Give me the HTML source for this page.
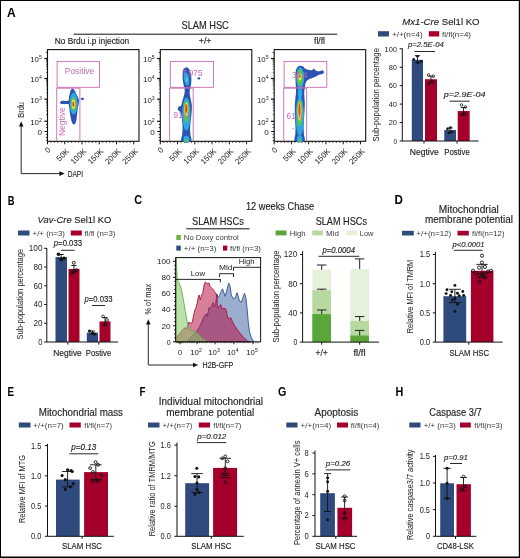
<!DOCTYPE html>
<html><head><meta charset="utf-8"><style>
html,body{margin:0;padding:0;background:#fff;}
svg{display:block;font-family:"Liberation Sans", sans-serif;}
.t{stroke:#222;stroke-width:0.14px;}
</style></head><body>
<svg width="520" height="558" viewBox="0 0 520 558">
<defs><filter id="bl" x="-20%" y="-20%" width="140%" height="140%"><feGaussianBlur stdDeviation="0.45"/></filter></defs>
<rect width="520" height="558" fill="#fff"/>
<g fill="#222" style="will-change:transform">
<line x1="0.50" y1="0.00" x2="0.50" y2="558.00" stroke="#000" stroke-width="1.0" />
<line x1="0.00" y1="0.50" x2="520.00" y2="0.50" stroke="#000" stroke-width="1.0" />
<line x1="0.00" y1="557.25" x2="520.00" y2="557.25" stroke="#000" stroke-width="1.5" />
<line x1="519.40" y1="0.00" x2="519.40" y2="558.00" stroke="#000" stroke-width="1.2" />
<text x="7.10" y="16.80" font-size="11.9" textLength="8.70" lengthAdjust="spacingAndGlyphs" fill="#000" font-weight="bold" >A</text>
<text x="7.70" y="204.60" font-size="11.9" textLength="6.80" lengthAdjust="spacingAndGlyphs" fill="#000" font-weight="bold" >B</text>
<text x="134.20" y="204.00" font-size="11.9" textLength="7.90" lengthAdjust="spacingAndGlyphs" fill="#000" font-weight="bold" >C</text>
<text x="394.60" y="203.90" font-size="11.9" textLength="8.40" lengthAdjust="spacingAndGlyphs" fill="#000" font-weight="bold" >D</text>
<text x="7.50" y="395.60" font-size="11.9" textLength="6.50" lengthAdjust="spacingAndGlyphs" fill="#000" font-weight="bold" >E</text>
<text x="139.50" y="395.60" font-size="11.9" textLength="6.00" lengthAdjust="spacingAndGlyphs" fill="#000" font-weight="bold" >F</text>
<text x="278.00" y="395.90" font-size="11.9" textLength="8.30" lengthAdjust="spacingAndGlyphs" fill="#000" font-weight="bold" >G</text>
<text x="395.50" y="395.90" font-size="11.9" textLength="7.80" lengthAdjust="spacingAndGlyphs" fill="#000" font-weight="bold" >H</text>
<text x="181.50" y="29.20" font-size="10.2" textLength="47.30" lengthAdjust="spacingAndGlyphs" class="t" >SLAM HSC</text>
<line x1="73.50" y1="34.20" x2="337.20" y2="34.20" stroke="#111" stroke-width="1.0" />
<text x="54.80" y="44.20" font-size="8.8" textLength="74.40" lengthAdjust="spacingAndGlyphs" class="t" >No Brdu i.p injection</text>
<text x="198.80" y="44.20" font-size="8.6" textLength="12.70" lengthAdjust="spacingAndGlyphs" class="t" >+/+</text>
<text x="314.00" y="44.20" font-size="8.6" textLength="11.00" lengthAdjust="spacingAndGlyphs" class="t" >fl/fl</text>
<rect x="47.50" y="49.60" width="91.50" height="91.70" fill="none" stroke="#111" stroke-width="1.1"/>
<line x1="44.30" y1="58.50" x2="47.50" y2="58.50" stroke="#111" stroke-width="1.2" />
<text x="30.20" y="62.24" font-size="7.9">10<tspan font-size="5.21" dy="-2.92">5</tspan></text>
<line x1="44.30" y1="78.50" x2="47.50" y2="78.50" stroke="#111" stroke-width="1.2" />
<text x="30.20" y="82.24" font-size="7.9">10<tspan font-size="5.21" dy="-2.92">4</tspan></text>
<line x1="44.30" y1="99.10" x2="47.50" y2="99.10" stroke="#111" stroke-width="1.2" />
<text x="30.20" y="102.84" font-size="7.9">10<tspan font-size="5.21" dy="-2.92">3</tspan></text>
<line x1="44.30" y1="121.30" x2="47.50" y2="121.30" stroke="#111" stroke-width="1.2" />
<text x="30.20" y="125.04" font-size="7.9">10<tspan font-size="5.21" dy="-2.92">2</tspan></text>
<line x1="46.00" y1="72.48" x2="47.50" y2="72.48" stroke="#111" stroke-width="0.6" />
<line x1="46.00" y1="68.96" x2="47.50" y2="68.96" stroke="#111" stroke-width="0.6" />
<line x1="46.00" y1="66.46" x2="47.50" y2="66.46" stroke="#111" stroke-width="0.6" />
<line x1="46.00" y1="64.52" x2="47.50" y2="64.52" stroke="#111" stroke-width="0.6" />
<line x1="46.00" y1="62.94" x2="47.50" y2="62.94" stroke="#111" stroke-width="0.6" />
<line x1="46.00" y1="61.60" x2="47.50" y2="61.60" stroke="#111" stroke-width="0.6" />
<line x1="46.00" y1="60.44" x2="47.50" y2="60.44" stroke="#111" stroke-width="0.6" />
<line x1="46.00" y1="59.42" x2="47.50" y2="59.42" stroke="#111" stroke-width="0.6" />
<line x1="46.00" y1="92.90" x2="47.50" y2="92.90" stroke="#111" stroke-width="0.6" />
<line x1="46.00" y1="89.27" x2="47.50" y2="89.27" stroke="#111" stroke-width="0.6" />
<line x1="46.00" y1="86.70" x2="47.50" y2="86.70" stroke="#111" stroke-width="0.6" />
<line x1="46.00" y1="84.70" x2="47.50" y2="84.70" stroke="#111" stroke-width="0.6" />
<line x1="46.00" y1="83.07" x2="47.50" y2="83.07" stroke="#111" stroke-width="0.6" />
<line x1="46.00" y1="81.69" x2="47.50" y2="81.69" stroke="#111" stroke-width="0.6" />
<line x1="46.00" y1="80.50" x2="47.50" y2="80.50" stroke="#111" stroke-width="0.6" />
<line x1="46.00" y1="79.44" x2="47.50" y2="79.44" stroke="#111" stroke-width="0.6" />
<line x1="46.00" y1="114.62" x2="47.50" y2="114.62" stroke="#111" stroke-width="0.6" />
<line x1="46.00" y1="110.71" x2="47.50" y2="110.71" stroke="#111" stroke-width="0.6" />
<line x1="46.00" y1="107.93" x2="47.50" y2="107.93" stroke="#111" stroke-width="0.6" />
<line x1="46.00" y1="105.78" x2="47.50" y2="105.78" stroke="#111" stroke-width="0.6" />
<line x1="46.00" y1="104.03" x2="47.50" y2="104.03" stroke="#111" stroke-width="0.6" />
<line x1="46.00" y1="102.54" x2="47.50" y2="102.54" stroke="#111" stroke-width="0.6" />
<line x1="46.00" y1="101.25" x2="47.50" y2="101.25" stroke="#111" stroke-width="0.6" />
<line x1="46.00" y1="100.12" x2="47.50" y2="100.12" stroke="#111" stroke-width="0.6" />
<line x1="45.90" y1="52.48" x2="47.50" y2="52.48" stroke="#111" stroke-width="0.8" />
<line x1="45.90" y1="124.50" x2="47.50" y2="124.50" stroke="#111" stroke-width="0.8" />
<line x1="45.90" y1="127.50" x2="47.50" y2="127.50" stroke="#111" stroke-width="0.8" />
<line x1="45.90" y1="134.50" x2="47.50" y2="134.50" stroke="#111" stroke-width="0.8" />
<line x1="45.90" y1="137.50" x2="47.50" y2="137.50" stroke="#111" stroke-width="0.8" />
<line x1="45.90" y1="140.30" x2="47.50" y2="140.30" stroke="#111" stroke-width="0.8" />
<line x1="44.50" y1="131.50" x2="47.50" y2="131.50" stroke="#111" stroke-width="1.0" />
<text x="37.50" y="134.76" font-size="7.4" textLength="4.50" lengthAdjust="spacingAndGlyphs" >0</text>
<line x1="47.50" y1="141.30" x2="47.50" y2="144.30" stroke="#111" stroke-width="1.0" />
<line x1="50.95" y1="141.30" x2="50.95" y2="142.90" stroke="#111" stroke-width="0.8" />
<line x1="54.40" y1="141.30" x2="54.40" y2="142.90" stroke="#111" stroke-width="0.8" />
<line x1="57.85" y1="141.30" x2="57.85" y2="142.90" stroke="#111" stroke-width="0.8" />
<line x1="61.30" y1="141.30" x2="61.30" y2="142.90" stroke="#111" stroke-width="0.8" />
<text transform="translate(51.10,150.50) rotate(-45)" font-size="7.9" text-anchor="end">0</text>
<line x1="64.75" y1="141.30" x2="64.75" y2="144.30" stroke="#111" stroke-width="1.0" />
<line x1="68.20" y1="141.30" x2="68.20" y2="142.90" stroke="#111" stroke-width="0.8" />
<line x1="71.65" y1="141.30" x2="71.65" y2="142.90" stroke="#111" stroke-width="0.8" />
<line x1="75.10" y1="141.30" x2="75.10" y2="142.90" stroke="#111" stroke-width="0.8" />
<line x1="78.55" y1="141.30" x2="78.55" y2="142.90" stroke="#111" stroke-width="0.8" />
<text transform="translate(69.55,151.70) rotate(-45)" font-size="7.9" text-anchor="end">50K</text>
<line x1="82.00" y1="141.30" x2="82.00" y2="144.30" stroke="#111" stroke-width="1.0" />
<line x1="85.45" y1="141.30" x2="85.45" y2="142.90" stroke="#111" stroke-width="0.8" />
<line x1="88.90" y1="141.30" x2="88.90" y2="142.90" stroke="#111" stroke-width="0.8" />
<line x1="92.35" y1="141.30" x2="92.35" y2="142.90" stroke="#111" stroke-width="0.8" />
<line x1="95.80" y1="141.30" x2="95.80" y2="142.90" stroke="#111" stroke-width="0.8" />
<text transform="translate(86.80,151.70) rotate(-45)" font-size="7.9" text-anchor="end">100K</text>
<line x1="99.25" y1="141.30" x2="99.25" y2="144.30" stroke="#111" stroke-width="1.0" />
<line x1="102.70" y1="141.30" x2="102.70" y2="142.90" stroke="#111" stroke-width="0.8" />
<line x1="106.15" y1="141.30" x2="106.15" y2="142.90" stroke="#111" stroke-width="0.8" />
<line x1="109.60" y1="141.30" x2="109.60" y2="142.90" stroke="#111" stroke-width="0.8" />
<line x1="113.05" y1="141.30" x2="113.05" y2="142.90" stroke="#111" stroke-width="0.8" />
<text transform="translate(104.05,151.70) rotate(-45)" font-size="7.9" text-anchor="end">150K</text>
<line x1="116.50" y1="141.30" x2="116.50" y2="144.30" stroke="#111" stroke-width="1.0" />
<line x1="119.95" y1="141.30" x2="119.95" y2="142.90" stroke="#111" stroke-width="0.8" />
<line x1="123.40" y1="141.30" x2="123.40" y2="142.90" stroke="#111" stroke-width="0.8" />
<line x1="126.85" y1="141.30" x2="126.85" y2="142.90" stroke="#111" stroke-width="0.8" />
<line x1="130.30" y1="141.30" x2="130.30" y2="142.90" stroke="#111" stroke-width="0.8" />
<text transform="translate(121.30,151.70) rotate(-45)" font-size="7.9" text-anchor="end">200K</text>
<line x1="133.75" y1="141.30" x2="133.75" y2="144.30" stroke="#111" stroke-width="1.0" />
<text transform="translate(138.55,151.70) rotate(-45)" font-size="7.9" text-anchor="end">250K</text>
<rect x="160.30" y="49.60" width="91.50" height="91.70" fill="none" stroke="#111" stroke-width="1.1"/>
<line x1="157.10" y1="58.50" x2="160.30" y2="58.50" stroke="#111" stroke-width="1.2" />
<text x="143.00" y="62.24" font-size="7.9">10<tspan font-size="5.21" dy="-2.92">5</tspan></text>
<line x1="157.10" y1="78.50" x2="160.30" y2="78.50" stroke="#111" stroke-width="1.2" />
<text x="143.00" y="82.24" font-size="7.9">10<tspan font-size="5.21" dy="-2.92">4</tspan></text>
<line x1="157.10" y1="99.10" x2="160.30" y2="99.10" stroke="#111" stroke-width="1.2" />
<text x="143.00" y="102.84" font-size="7.9">10<tspan font-size="5.21" dy="-2.92">3</tspan></text>
<line x1="157.10" y1="121.30" x2="160.30" y2="121.30" stroke="#111" stroke-width="1.2" />
<text x="143.00" y="125.04" font-size="7.9">10<tspan font-size="5.21" dy="-2.92">2</tspan></text>
<line x1="158.80" y1="72.48" x2="160.30" y2="72.48" stroke="#111" stroke-width="0.6" />
<line x1="158.80" y1="68.96" x2="160.30" y2="68.96" stroke="#111" stroke-width="0.6" />
<line x1="158.80" y1="66.46" x2="160.30" y2="66.46" stroke="#111" stroke-width="0.6" />
<line x1="158.80" y1="64.52" x2="160.30" y2="64.52" stroke="#111" stroke-width="0.6" />
<line x1="158.80" y1="62.94" x2="160.30" y2="62.94" stroke="#111" stroke-width="0.6" />
<line x1="158.80" y1="61.60" x2="160.30" y2="61.60" stroke="#111" stroke-width="0.6" />
<line x1="158.80" y1="60.44" x2="160.30" y2="60.44" stroke="#111" stroke-width="0.6" />
<line x1="158.80" y1="59.42" x2="160.30" y2="59.42" stroke="#111" stroke-width="0.6" />
<line x1="158.80" y1="92.90" x2="160.30" y2="92.90" stroke="#111" stroke-width="0.6" />
<line x1="158.80" y1="89.27" x2="160.30" y2="89.27" stroke="#111" stroke-width="0.6" />
<line x1="158.80" y1="86.70" x2="160.30" y2="86.70" stroke="#111" stroke-width="0.6" />
<line x1="158.80" y1="84.70" x2="160.30" y2="84.70" stroke="#111" stroke-width="0.6" />
<line x1="158.80" y1="83.07" x2="160.30" y2="83.07" stroke="#111" stroke-width="0.6" />
<line x1="158.80" y1="81.69" x2="160.30" y2="81.69" stroke="#111" stroke-width="0.6" />
<line x1="158.80" y1="80.50" x2="160.30" y2="80.50" stroke="#111" stroke-width="0.6" />
<line x1="158.80" y1="79.44" x2="160.30" y2="79.44" stroke="#111" stroke-width="0.6" />
<line x1="158.80" y1="114.62" x2="160.30" y2="114.62" stroke="#111" stroke-width="0.6" />
<line x1="158.80" y1="110.71" x2="160.30" y2="110.71" stroke="#111" stroke-width="0.6" />
<line x1="158.80" y1="107.93" x2="160.30" y2="107.93" stroke="#111" stroke-width="0.6" />
<line x1="158.80" y1="105.78" x2="160.30" y2="105.78" stroke="#111" stroke-width="0.6" />
<line x1="158.80" y1="104.03" x2="160.30" y2="104.03" stroke="#111" stroke-width="0.6" />
<line x1="158.80" y1="102.54" x2="160.30" y2="102.54" stroke="#111" stroke-width="0.6" />
<line x1="158.80" y1="101.25" x2="160.30" y2="101.25" stroke="#111" stroke-width="0.6" />
<line x1="158.80" y1="100.12" x2="160.30" y2="100.12" stroke="#111" stroke-width="0.6" />
<line x1="158.70" y1="52.48" x2="160.30" y2="52.48" stroke="#111" stroke-width="0.8" />
<line x1="158.70" y1="124.50" x2="160.30" y2="124.50" stroke="#111" stroke-width="0.8" />
<line x1="158.70" y1="127.50" x2="160.30" y2="127.50" stroke="#111" stroke-width="0.8" />
<line x1="158.70" y1="134.50" x2="160.30" y2="134.50" stroke="#111" stroke-width="0.8" />
<line x1="158.70" y1="137.50" x2="160.30" y2="137.50" stroke="#111" stroke-width="0.8" />
<line x1="158.70" y1="140.30" x2="160.30" y2="140.30" stroke="#111" stroke-width="0.8" />
<line x1="157.30" y1="131.50" x2="160.30" y2="131.50" stroke="#111" stroke-width="1.0" />
<text x="150.30" y="134.76" font-size="7.4" textLength="4.50" lengthAdjust="spacingAndGlyphs" >0</text>
<line x1="160.30" y1="141.30" x2="160.30" y2="144.30" stroke="#111" stroke-width="1.0" />
<line x1="163.75" y1="141.30" x2="163.75" y2="142.90" stroke="#111" stroke-width="0.8" />
<line x1="167.20" y1="141.30" x2="167.20" y2="142.90" stroke="#111" stroke-width="0.8" />
<line x1="170.65" y1="141.30" x2="170.65" y2="142.90" stroke="#111" stroke-width="0.8" />
<line x1="174.10" y1="141.30" x2="174.10" y2="142.90" stroke="#111" stroke-width="0.8" />
<text transform="translate(163.90,150.50) rotate(-45)" font-size="7.9" text-anchor="end">0</text>
<line x1="177.55" y1="141.30" x2="177.55" y2="144.30" stroke="#111" stroke-width="1.0" />
<line x1="181.00" y1="141.30" x2="181.00" y2="142.90" stroke="#111" stroke-width="0.8" />
<line x1="184.45" y1="141.30" x2="184.45" y2="142.90" stroke="#111" stroke-width="0.8" />
<line x1="187.90" y1="141.30" x2="187.90" y2="142.90" stroke="#111" stroke-width="0.8" />
<line x1="191.35" y1="141.30" x2="191.35" y2="142.90" stroke="#111" stroke-width="0.8" />
<text transform="translate(182.35,151.70) rotate(-45)" font-size="7.9" text-anchor="end">50K</text>
<line x1="194.80" y1="141.30" x2="194.80" y2="144.30" stroke="#111" stroke-width="1.0" />
<line x1="198.25" y1="141.30" x2="198.25" y2="142.90" stroke="#111" stroke-width="0.8" />
<line x1="201.70" y1="141.30" x2="201.70" y2="142.90" stroke="#111" stroke-width="0.8" />
<line x1="205.15" y1="141.30" x2="205.15" y2="142.90" stroke="#111" stroke-width="0.8" />
<line x1="208.60" y1="141.30" x2="208.60" y2="142.90" stroke="#111" stroke-width="0.8" />
<text transform="translate(199.60,151.70) rotate(-45)" font-size="7.9" text-anchor="end">100K</text>
<line x1="212.05" y1="141.30" x2="212.05" y2="144.30" stroke="#111" stroke-width="1.0" />
<line x1="215.50" y1="141.30" x2="215.50" y2="142.90" stroke="#111" stroke-width="0.8" />
<line x1="218.95" y1="141.30" x2="218.95" y2="142.90" stroke="#111" stroke-width="0.8" />
<line x1="222.40" y1="141.30" x2="222.40" y2="142.90" stroke="#111" stroke-width="0.8" />
<line x1="225.85" y1="141.30" x2="225.85" y2="142.90" stroke="#111" stroke-width="0.8" />
<text transform="translate(216.85,151.70) rotate(-45)" font-size="7.9" text-anchor="end">150K</text>
<line x1="229.30" y1="141.30" x2="229.30" y2="144.30" stroke="#111" stroke-width="1.0" />
<line x1="232.75" y1="141.30" x2="232.75" y2="142.90" stroke="#111" stroke-width="0.8" />
<line x1="236.20" y1="141.30" x2="236.20" y2="142.90" stroke="#111" stroke-width="0.8" />
<line x1="239.65" y1="141.30" x2="239.65" y2="142.90" stroke="#111" stroke-width="0.8" />
<line x1="243.10" y1="141.30" x2="243.10" y2="142.90" stroke="#111" stroke-width="0.8" />
<text transform="translate(234.10,151.70) rotate(-45)" font-size="7.9" text-anchor="end">200K</text>
<line x1="246.55" y1="141.30" x2="246.55" y2="144.30" stroke="#111" stroke-width="1.0" />
<text transform="translate(251.35,151.70) rotate(-45)" font-size="7.9" text-anchor="end">250K</text>
<rect x="274.20" y="49.60" width="91.50" height="91.70" fill="none" stroke="#111" stroke-width="1.1"/>
<line x1="271.00" y1="58.50" x2="274.20" y2="58.50" stroke="#111" stroke-width="1.2" />
<text x="256.90" y="62.24" font-size="7.9">10<tspan font-size="5.21" dy="-2.92">5</tspan></text>
<line x1="271.00" y1="78.50" x2="274.20" y2="78.50" stroke="#111" stroke-width="1.2" />
<text x="256.90" y="82.24" font-size="7.9">10<tspan font-size="5.21" dy="-2.92">4</tspan></text>
<line x1="271.00" y1="99.10" x2="274.20" y2="99.10" stroke="#111" stroke-width="1.2" />
<text x="256.90" y="102.84" font-size="7.9">10<tspan font-size="5.21" dy="-2.92">3</tspan></text>
<line x1="271.00" y1="121.30" x2="274.20" y2="121.30" stroke="#111" stroke-width="1.2" />
<text x="256.90" y="125.04" font-size="7.9">10<tspan font-size="5.21" dy="-2.92">2</tspan></text>
<line x1="272.70" y1="72.48" x2="274.20" y2="72.48" stroke="#111" stroke-width="0.6" />
<line x1="272.70" y1="68.96" x2="274.20" y2="68.96" stroke="#111" stroke-width="0.6" />
<line x1="272.70" y1="66.46" x2="274.20" y2="66.46" stroke="#111" stroke-width="0.6" />
<line x1="272.70" y1="64.52" x2="274.20" y2="64.52" stroke="#111" stroke-width="0.6" />
<line x1="272.70" y1="62.94" x2="274.20" y2="62.94" stroke="#111" stroke-width="0.6" />
<line x1="272.70" y1="61.60" x2="274.20" y2="61.60" stroke="#111" stroke-width="0.6" />
<line x1="272.70" y1="60.44" x2="274.20" y2="60.44" stroke="#111" stroke-width="0.6" />
<line x1="272.70" y1="59.42" x2="274.20" y2="59.42" stroke="#111" stroke-width="0.6" />
<line x1="272.70" y1="92.90" x2="274.20" y2="92.90" stroke="#111" stroke-width="0.6" />
<line x1="272.70" y1="89.27" x2="274.20" y2="89.27" stroke="#111" stroke-width="0.6" />
<line x1="272.70" y1="86.70" x2="274.20" y2="86.70" stroke="#111" stroke-width="0.6" />
<line x1="272.70" y1="84.70" x2="274.20" y2="84.70" stroke="#111" stroke-width="0.6" />
<line x1="272.70" y1="83.07" x2="274.20" y2="83.07" stroke="#111" stroke-width="0.6" />
<line x1="272.70" y1="81.69" x2="274.20" y2="81.69" stroke="#111" stroke-width="0.6" />
<line x1="272.70" y1="80.50" x2="274.20" y2="80.50" stroke="#111" stroke-width="0.6" />
<line x1="272.70" y1="79.44" x2="274.20" y2="79.44" stroke="#111" stroke-width="0.6" />
<line x1="272.70" y1="114.62" x2="274.20" y2="114.62" stroke="#111" stroke-width="0.6" />
<line x1="272.70" y1="110.71" x2="274.20" y2="110.71" stroke="#111" stroke-width="0.6" />
<line x1="272.70" y1="107.93" x2="274.20" y2="107.93" stroke="#111" stroke-width="0.6" />
<line x1="272.70" y1="105.78" x2="274.20" y2="105.78" stroke="#111" stroke-width="0.6" />
<line x1="272.70" y1="104.03" x2="274.20" y2="104.03" stroke="#111" stroke-width="0.6" />
<line x1="272.70" y1="102.54" x2="274.20" y2="102.54" stroke="#111" stroke-width="0.6" />
<line x1="272.70" y1="101.25" x2="274.20" y2="101.25" stroke="#111" stroke-width="0.6" />
<line x1="272.70" y1="100.12" x2="274.20" y2="100.12" stroke="#111" stroke-width="0.6" />
<line x1="272.60" y1="52.48" x2="274.20" y2="52.48" stroke="#111" stroke-width="0.8" />
<line x1="272.60" y1="124.50" x2="274.20" y2="124.50" stroke="#111" stroke-width="0.8" />
<line x1="272.60" y1="127.50" x2="274.20" y2="127.50" stroke="#111" stroke-width="0.8" />
<line x1="272.60" y1="134.50" x2="274.20" y2="134.50" stroke="#111" stroke-width="0.8" />
<line x1="272.60" y1="137.50" x2="274.20" y2="137.50" stroke="#111" stroke-width="0.8" />
<line x1="272.60" y1="140.30" x2="274.20" y2="140.30" stroke="#111" stroke-width="0.8" />
<line x1="271.20" y1="131.50" x2="274.20" y2="131.50" stroke="#111" stroke-width="1.0" />
<text x="264.20" y="134.76" font-size="7.4" textLength="4.50" lengthAdjust="spacingAndGlyphs" >0</text>
<line x1="274.20" y1="141.30" x2="274.20" y2="144.30" stroke="#111" stroke-width="1.0" />
<line x1="277.65" y1="141.30" x2="277.65" y2="142.90" stroke="#111" stroke-width="0.8" />
<line x1="281.10" y1="141.30" x2="281.10" y2="142.90" stroke="#111" stroke-width="0.8" />
<line x1="284.55" y1="141.30" x2="284.55" y2="142.90" stroke="#111" stroke-width="0.8" />
<line x1="288.00" y1="141.30" x2="288.00" y2="142.90" stroke="#111" stroke-width="0.8" />
<text transform="translate(277.80,150.50) rotate(-45)" font-size="7.9" text-anchor="end">0</text>
<line x1="291.45" y1="141.30" x2="291.45" y2="144.30" stroke="#111" stroke-width="1.0" />
<line x1="294.90" y1="141.30" x2="294.90" y2="142.90" stroke="#111" stroke-width="0.8" />
<line x1="298.35" y1="141.30" x2="298.35" y2="142.90" stroke="#111" stroke-width="0.8" />
<line x1="301.80" y1="141.30" x2="301.80" y2="142.90" stroke="#111" stroke-width="0.8" />
<line x1="305.25" y1="141.30" x2="305.25" y2="142.90" stroke="#111" stroke-width="0.8" />
<text transform="translate(296.25,151.70) rotate(-45)" font-size="7.9" text-anchor="end">50K</text>
<line x1="308.70" y1="141.30" x2="308.70" y2="144.30" stroke="#111" stroke-width="1.0" />
<line x1="312.15" y1="141.30" x2="312.15" y2="142.90" stroke="#111" stroke-width="0.8" />
<line x1="315.60" y1="141.30" x2="315.60" y2="142.90" stroke="#111" stroke-width="0.8" />
<line x1="319.05" y1="141.30" x2="319.05" y2="142.90" stroke="#111" stroke-width="0.8" />
<line x1="322.50" y1="141.30" x2="322.50" y2="142.90" stroke="#111" stroke-width="0.8" />
<text transform="translate(313.50,151.70) rotate(-45)" font-size="7.9" text-anchor="end">100K</text>
<line x1="325.95" y1="141.30" x2="325.95" y2="144.30" stroke="#111" stroke-width="1.0" />
<line x1="329.40" y1="141.30" x2="329.40" y2="142.90" stroke="#111" stroke-width="0.8" />
<line x1="332.85" y1="141.30" x2="332.85" y2="142.90" stroke="#111" stroke-width="0.8" />
<line x1="336.30" y1="141.30" x2="336.30" y2="142.90" stroke="#111" stroke-width="0.8" />
<line x1="339.75" y1="141.30" x2="339.75" y2="142.90" stroke="#111" stroke-width="0.8" />
<text transform="translate(330.75,151.70) rotate(-45)" font-size="7.9" text-anchor="end">150K</text>
<line x1="343.20" y1="141.30" x2="343.20" y2="144.30" stroke="#111" stroke-width="1.0" />
<line x1="346.65" y1="141.30" x2="346.65" y2="142.90" stroke="#111" stroke-width="0.8" />
<line x1="350.10" y1="141.30" x2="350.10" y2="142.90" stroke="#111" stroke-width="0.8" />
<line x1="353.55" y1="141.30" x2="353.55" y2="142.90" stroke="#111" stroke-width="0.8" />
<line x1="357.00" y1="141.30" x2="357.00" y2="142.90" stroke="#111" stroke-width="0.8" />
<text transform="translate(348.00,151.70) rotate(-45)" font-size="7.9" text-anchor="end">200K</text>
<line x1="360.45" y1="141.30" x2="360.45" y2="144.30" stroke="#111" stroke-width="1.0" />
<text transform="translate(365.25,151.70) rotate(-45)" font-size="7.9" text-anchor="end">250K</text>
<g filter="url(#bl)"><path d="M72.30,88.60 C72.80,88.45 73.32,88.92 73.80,89.40 C74.28,89.88 74.73,90.65 75.20,91.50 C75.67,92.35 76.13,93.53 76.60,94.50 C77.07,95.47 77.60,96.33 78.00,97.30 C78.40,98.27 78.88,99.27 79.00,100.30 C79.12,101.33 78.87,102.38 78.70,103.50 C78.53,104.62 78.20,105.75 78.00,107.00 C77.80,108.25 77.67,109.67 77.50,111.00 C77.33,112.33 77.18,113.50 77.00,115.00 C76.82,116.50 76.68,118.57 76.40,120.00 C76.12,121.43 75.72,122.83 75.30,123.60 C74.88,124.37 74.37,124.60 73.90,124.60 C73.43,124.60 72.95,124.37 72.50,123.60 C72.05,122.83 71.58,121.43 71.20,120.00 C70.82,118.57 70.48,116.67 70.20,115.00 C69.92,113.33 69.70,111.50 69.50,110.00 C69.30,108.50 69.15,106.97 69.00,106.00 C68.85,105.03 69.27,104.53 68.60,104.20 C67.93,103.87 66.18,104.03 65.00,104.00 C63.82,103.97 62.35,104.23 61.50,104.00 C60.65,103.77 59.90,103.10 59.90,102.60 C59.90,102.10 60.65,101.28 61.50,101.00 C62.35,100.72 63.83,100.97 65.00,100.90 C66.17,100.83 67.83,101.25 68.50,100.60 C69.17,99.95 68.78,98.18 69.00,97.00 C69.22,95.82 69.50,94.62 69.80,93.50 C70.10,92.38 70.38,91.12 70.80,90.30 C71.22,89.48 71.80,88.75 72.30,88.60 Z" fill="#2c52b2"/><ellipse cx="73.7" cy="103.5" rx="4.0" ry="11.0" fill="#2aa8e2"/><ellipse cx="73.6" cy="104" rx="2.7" ry="7.0" fill="#62bf52"/><ellipse cx="73.5" cy="104.2" rx="1.8" ry="4.6" fill="#f2e23a"/><ellipse cx="73.4" cy="104.3" rx="1.0" ry="2.9" fill="#ec3a24"/><ellipse cx="82.4" cy="98.9" rx="1.6" ry="1.1" fill="#2c52b2"/></g>
<g filter="url(#bl)"><path d="M185.80,67.40 C186.63,67.20 187.68,67.67 188.40,68.30 C189.12,68.93 189.65,70.00 190.10,71.20 C190.55,72.40 190.88,73.95 191.10,75.50 C191.32,77.05 191.43,78.83 191.40,80.50 C191.37,82.17 191.13,84.08 190.90,85.50 C190.67,86.92 190.22,87.75 190.00,89.00 C189.78,90.25 189.57,91.67 189.60,93.00 C189.63,94.33 189.97,95.75 190.20,97.00 C190.43,98.25 190.73,99.17 191.00,100.50 C191.27,101.83 191.67,103.42 191.80,105.00 C191.93,106.58 191.87,108.33 191.80,110.00 C191.73,111.67 191.57,113.33 191.40,115.00 C191.23,116.67 190.98,118.33 190.80,120.00 C190.62,121.67 190.42,123.33 190.30,125.00 C190.18,126.67 190.07,128.33 190.10,130.00 C190.13,131.67 190.35,133.13 190.50,135.00 C190.65,136.87 192.48,140.17 191.00,141.20 C189.52,142.23 183.08,142.23 181.60,141.20 C180.12,140.17 181.95,136.87 182.10,135.00 C182.25,133.13 182.43,131.67 182.50,130.00 C182.57,128.33 182.58,126.67 182.50,125.00 C182.42,123.33 182.18,121.67 182.00,120.00 C181.82,118.33 181.65,116.33 181.40,115.00 C181.15,113.67 181.02,112.75 180.50,112.00 C179.98,111.25 178.75,111.08 178.30,110.50 C177.85,109.92 177.68,109.17 177.80,108.50 C177.92,107.83 178.43,107.00 179.00,106.50 C179.57,106.00 180.65,106.42 181.20,105.50 C181.75,104.58 181.92,102.42 182.30,101.00 C182.68,99.58 183.12,98.33 183.50,97.00 C183.88,95.67 184.42,94.33 184.60,93.00 C184.78,91.67 184.77,90.33 184.60,89.00 C184.43,87.67 183.90,86.50 183.60,85.00 C183.30,83.50 182.97,81.75 182.80,80.00 C182.63,78.25 182.50,76.25 182.60,74.50 C182.70,72.75 182.87,70.68 183.40,69.50 C183.93,68.32 184.97,67.60 185.80,67.40 Z" fill="#2c52b2"/><ellipse cx="186.6" cy="79" rx="2.5" ry="6.8" fill="#2aa8e2" transform="rotate(-8 186.6 79)"/><ellipse cx="186.6" cy="79.5" rx="1.0" ry="2.5" fill="#5ec8c8"/><ellipse cx="186.4" cy="114" rx="4.1" ry="16.5" fill="#2aa8e2"/><ellipse cx="186.4" cy="111.5" rx="2.9" ry="11.0" fill="#62bf52"/><ellipse cx="186.3" cy="109.5" rx="1.9" ry="7.0" fill="#f2e23a"/><ellipse cx="186.3" cy="108.5" rx="1.1" ry="4.6" fill="#ec3a24"/><ellipse cx="186.4" cy="139.3" rx="3.0" ry="3.6" fill="#2aa8e2"/><ellipse cx="186.4" cy="140.8" rx="1.8" ry="1.8" fill="#62bf52"/><ellipse cx="198.8" cy="78.4" rx="1.5" ry="1.1" fill="#2c52b2"/></g>
<g filter="url(#bl)"><path d="M300.40,65.80 C301.35,65.73 302.45,66.13 303.20,66.60 C303.95,67.07 304.10,68.07 304.90,68.60 C305.70,69.13 306.95,69.52 308.00,69.80 C309.05,70.08 310.37,70.40 311.20,70.30 C312.03,70.20 312.55,69.52 313.00,69.20 C313.45,68.88 313.53,68.27 313.90,68.40 C314.27,68.53 314.60,69.53 315.20,70.00 C315.80,70.47 316.62,71.05 317.50,71.20 C318.38,71.35 319.62,71.03 320.50,70.90 C321.38,70.77 322.22,70.18 322.80,70.40 C323.38,70.62 324.00,71.63 324.00,72.20 C324.00,72.77 323.47,73.40 322.80,73.80 C322.13,74.20 321.13,74.17 320.00,74.60 C318.87,75.03 317.42,75.80 316.00,76.40 C314.58,77.00 312.87,77.60 311.50,78.20 C310.13,78.80 308.78,79.20 307.80,80.00 C306.82,80.80 306.10,81.67 305.60,83.00 C305.10,84.33 305.03,86.33 304.80,88.00 C304.57,89.67 304.25,91.33 304.20,93.00 C304.15,94.67 304.40,96.17 304.50,98.00 C304.60,99.83 304.78,102.00 304.80,104.00 C304.82,106.00 304.70,108.00 304.60,110.00 C304.50,112.00 304.33,114.00 304.20,116.00 C304.07,118.00 303.90,120.00 303.80,122.00 C303.70,124.00 303.58,126.00 303.60,128.00 C303.62,130.00 303.78,131.80 303.90,134.00 C304.02,136.20 305.78,140.00 304.30,141.20 C302.82,142.40 296.50,142.40 295.00,141.20 C293.50,140.00 295.22,136.20 295.30,134.00 C295.38,131.80 295.52,130.00 295.50,128.00 C295.48,126.00 295.30,124.00 295.20,122.00 C295.10,120.00 294.97,118.00 294.90,116.00 C294.83,114.00 294.80,112.00 294.80,110.00 C294.80,108.00 294.80,106.00 294.90,104.00 C295.00,102.00 295.22,99.83 295.40,98.00 C295.58,96.17 295.90,94.67 296.00,93.00 C296.10,91.33 296.07,89.67 296.00,88.00 C295.93,86.33 295.68,84.83 295.60,83.00 C295.52,81.17 295.47,79.00 295.50,77.00 C295.53,75.00 295.47,72.67 295.80,71.00 C296.13,69.33 296.73,67.87 297.50,67.00 C298.27,66.13 299.45,65.87 300.40,65.80 Z" fill="#2c52b2"/><ellipse cx="300.2" cy="77.8" rx="4.0" ry="10.5" fill="#2aa8e2"/><ellipse cx="300.0" cy="77.5" rx="3.0" ry="8.3" fill="#62bf52"/><ellipse cx="299.9" cy="77.0" rx="1.6" ry="3.4" fill="#f2e23a"/><ellipse cx="299.7" cy="76.2" rx="0.8" ry="1.4" fill="#ec3a24"/><ellipse cx="300.0" cy="93" rx="2.2" ry="6" fill="#2aa8e2"/><ellipse cx="299.8" cy="116.5" rx="4.2" ry="19.5" fill="#2aa8e2"/><ellipse cx="299.7" cy="113" rx="3.0" ry="13.5" fill="#62bf52"/><ellipse cx="299.6" cy="111.5" rx="1.9" ry="9.5" fill="#f2e23a"/><ellipse cx="299.5" cy="110" rx="1.0" ry="7.0" fill="#ec3a24"/><ellipse cx="299.7" cy="139" rx="2.8" ry="3.6" fill="#2aa8e2"/><ellipse cx="299.7" cy="140.6" rx="1.5" ry="1.7" fill="#62bf52"/><ellipse cx="293.0" cy="128.5" rx="0.6" ry="0.4" fill="#2c52b2"/></g>
<rect x="57.10" y="61.4" width="42.40" height="25.9" fill="none" stroke="#c46ab2" stroke-width="0.9"/>
<polyline points="56.70,140.80 56.70,88.2 79.90,88.2 79.90,140.80" fill="none" stroke="#c46ab2" stroke-width="0.9"/>
<rect x="170.30" y="61.4" width="43.10" height="25.9" fill="none" stroke="#c46ab2" stroke-width="0.9"/>
<polyline points="169.60,140.80 169.60,88.2 193.20,88.2 193.20,140.80" fill="none" stroke="#c46ab2" stroke-width="0.9"/>
<rect x="284.10" y="61.4" width="42.70" height="25.9" fill="none" stroke="#c46ab2" stroke-width="0.9"/>
<polyline points="283.70,140.80 283.70,88.2 306.60,88.2 306.60,140.80" fill="none" stroke="#c46ab2" stroke-width="0.9"/>
<text x="64.80" y="74.40" font-size="9.0" textLength="29.40" lengthAdjust="spacingAndGlyphs" fill="#c46ab2" >Positive</text>
<text transform="translate(64.90,136.00) rotate(-90)" x="0" y="0" font-size="8.6" textLength="28.70" lengthAdjust="spacingAndGlyphs" fill="#c46ab2">Negtive</text>
<text x="181.90" y="76.46" font-size="8.5" textLength="20.60" lengthAdjust="spacingAndGlyphs" fill="#c46ab2" >7.975</text>
<text x="173.50" y="118.26" font-size="8.5" textLength="15.80" lengthAdjust="spacingAndGlyphs" fill="#c46ab2" >91.9</text>
<text x="291.90" y="78.16" font-size="8.5" textLength="15.60" lengthAdjust="spacingAndGlyphs" fill="#c46ab2" >38.4</text>
<text x="286.60" y="118.66" font-size="8.5" textLength="16.20" lengthAdjust="spacingAndGlyphs" fill="#c46ab2" >61.6</text>
<text transform="translate(24.30,117.70) rotate(-90)" x="0" y="0" font-size="8.6" textLength="15.70" lengthAdjust="spacingAndGlyphs" fill="#222">Brdu</text>
<line x1="21.20" y1="173.60" x2="21.20" y2="125.00" stroke="#111" stroke-width="0.9" />
<path d="M21.2,121.3 L18.9,126.5 L23.5,126.5 Z" fill="#111"/>
<line x1="21.20" y1="173.60" x2="60.50" y2="173.60" stroke="#111" stroke-width="0.9" />
<path d="M64.6,173.6 L59.4,171.3 L59.4,175.9 Z" fill="#111"/>
<text x="67.70" y="176.84" font-size="9.0" textLength="15.30" lengthAdjust="spacingAndGlyphs" class="t" >DAPI</text>
<text class="t" x="402.3" y="25.0" font-size="9.8" textLength="77.3" lengthAdjust="spacingAndGlyphs"><tspan font-style="italic">Mx1-Cre</tspan> Sel1l KO</text>
<rect x="378.00" y="31.20" width="11.00" height="5.30" fill="#2f4b7e" />
<text x="392.00" y="36.51" font-size="7.4" textLength="30.60" lengthAdjust="spacingAndGlyphs" fill="#3a3a3a" >+/+(n=4)</text>
<rect x="428.80" y="31.20" width="10.40" height="5.30" fill="#a5002b" />
<text x="442.00" y="36.51" font-size="7.4" textLength="29.00" lengthAdjust="spacingAndGlyphs" fill="#3a3a3a" >fl/fl(n=4)</text>
<rect x="411.80" y="59.86" width="11.20" height="81.14" fill="#2f4b7e" />
<rect x="425.00" y="79.23" width="12.00" height="61.77" fill="#a5002b" />
<rect x="444.30" y="129.94" width="11.70" height="11.06" fill="#2f4b7e" />
<rect x="457.70" y="111.03" width="12.00" height="29.97" fill="#a5002b" />
<line x1="402.30" y1="48.50" x2="402.30" y2="141.00" stroke="#111" stroke-width="1.0" />
<line x1="402.30" y1="141.00" x2="478.50" y2="141.00" stroke="#111" stroke-width="1.0" />
<line x1="399.70" y1="48.80" x2="402.30" y2="48.80" stroke="#111" stroke-width="1.0" />
<text x="384.50" y="51.61" font-size="7.8" textLength="12.50" lengthAdjust="spacingAndGlyphs" >100</text>
<line x1="399.70" y1="67.24" x2="402.30" y2="67.24" stroke="#111" stroke-width="1.0" />
<text x="388.70" y="70.05" font-size="7.8" textLength="8.30" lengthAdjust="spacingAndGlyphs" >80</text>
<line x1="399.70" y1="85.68" x2="402.30" y2="85.68" stroke="#111" stroke-width="1.0" />
<text x="388.70" y="88.49" font-size="7.8" textLength="8.30" lengthAdjust="spacingAndGlyphs" >60</text>
<line x1="399.70" y1="104.12" x2="402.30" y2="104.12" stroke="#111" stroke-width="1.0" />
<text x="388.70" y="106.93" font-size="7.8" textLength="8.30" lengthAdjust="spacingAndGlyphs" >40</text>
<line x1="399.70" y1="122.56" x2="402.30" y2="122.56" stroke="#111" stroke-width="1.0" />
<text x="388.70" y="125.37" font-size="7.8" textLength="8.30" lengthAdjust="spacingAndGlyphs" >20</text>
<line x1="399.70" y1="141.00" x2="402.30" y2="141.00" stroke="#111" stroke-width="1.0" />
<text x="393.40" y="143.81" font-size="7.8" textLength="3.60" lengthAdjust="spacingAndGlyphs" >0</text>
<line x1="424.00" y1="141.00" x2="424.00" y2="143.60" stroke="#111" stroke-width="1.0" />
<line x1="457.00" y1="141.00" x2="457.00" y2="143.60" stroke="#111" stroke-width="1.0" />
<text x="409.70" y="155.02" font-size="8.4" textLength="29.10" lengthAdjust="spacingAndGlyphs" class="t" >Negtive</text>
<text x="444.30" y="155.02" font-size="8.4" textLength="25.40" lengthAdjust="spacingAndGlyphs" class="t" >Postive</text>
<text x="408.00" y="47.48" font-size="8.0" textLength="35.80" lengthAdjust="spacingAndGlyphs" font-style="italic" class="t" >p=2.5E-04</text>
<line x1="414.50" y1="51.50" x2="435.00" y2="51.50" stroke="#111" stroke-width="0.9" />
<text x="443.80" y="97.48" font-size="8.0" textLength="41.60" lengthAdjust="spacingAndGlyphs" font-style="italic" class="t" >p=2.9E-04</text>
<line x1="449.60" y1="101.20" x2="469.70" y2="101.20" stroke="#111" stroke-width="0.9" />
<text transform="translate(379.00,141.50) rotate(-90)" x="0" y="0" font-size="8.9" textLength="93.50" lengthAdjust="spacingAndGlyphs" fill="#222">Sub-population percentage</text>
<line x1="417.40" y1="55.70" x2="417.40" y2="62.80" stroke="#111" stroke-width="0.9" />
<line x1="414.80" y1="55.70" x2="420.00" y2="55.70" stroke="#111" stroke-width="0.9" />
<line x1="414.80" y1="62.80" x2="420.00" y2="62.80" stroke="#111" stroke-width="0.9" />
<circle cx="413.70" cy="59.40" r="1.3" fill="#111"/>
<circle cx="417.50" cy="56.30" r="1.3" fill="#111"/>
<circle cx="417.80" cy="62.80" r="1.3" fill="#111"/>
<circle cx="421.20" cy="61.40" r="1.3" fill="#111"/>
<line x1="431.00" y1="76.20" x2="431.00" y2="82.30" stroke="#111" stroke-width="0.9" />
<line x1="428.40" y1="76.20" x2="433.60" y2="76.20" stroke="#111" stroke-width="0.9" />
<line x1="428.40" y1="82.30" x2="433.60" y2="82.30" stroke="#111" stroke-width="0.9" />
<circle cx="428.60" cy="74.90" r="1.3" fill="none" stroke="#111" stroke-width="0.8"/>
<circle cx="433.30" cy="76.20" r="1.3" fill="none" stroke="#111" stroke-width="0.8"/>
<circle cx="432.60" cy="81.60" r="1.3" fill="none" stroke="#111" stroke-width="0.8"/>
<circle cx="429.00" cy="84.00" r="1.3" fill="none" stroke="#111" stroke-width="0.8"/>
<line x1="450.00" y1="128.00" x2="450.00" y2="132.50" stroke="#111" stroke-width="0.9" />
<line x1="447.40" y1="128.00" x2="452.60" y2="128.00" stroke="#111" stroke-width="0.9" />
<line x1="447.40" y1="132.50" x2="452.60" y2="132.50" stroke="#111" stroke-width="0.9" />
<circle cx="447.50" cy="128.80" r="1.3" fill="#111"/>
<circle cx="450.50" cy="127.50" r="1.3" fill="#111"/>
<circle cx="452.00" cy="132.00" r="1.3" fill="#111"/>
<circle cx="449.00" cy="133.00" r="1.3" fill="#111"/>
<line x1="463.50" y1="107.50" x2="463.50" y2="115.00" stroke="#111" stroke-width="0.9" />
<line x1="460.90" y1="107.50" x2="466.10" y2="107.50" stroke="#111" stroke-width="0.9" />
<line x1="460.90" y1="115.00" x2="466.10" y2="115.00" stroke="#111" stroke-width="0.9" />
<circle cx="461.50" cy="105.00" r="1.3" fill="none" stroke="#111" stroke-width="0.8"/>
<circle cx="465.50" cy="107.00" r="1.3" fill="none" stroke="#111" stroke-width="0.8"/>
<circle cx="461.50" cy="114.50" r="1.3" fill="none" stroke="#111" stroke-width="0.8"/>
<circle cx="465.00" cy="113.50" r="1.3" fill="none" stroke="#111" stroke-width="0.8"/>
<text class="t" x="37.5" y="223.0" font-size="9.8" textLength="73.8" lengthAdjust="spacingAndGlyphs"><tspan font-style="italic">Vav-Cre</tspan> Sel1l KO</text>
<rect x="18.00" y="230.50" width="11.50" height="5.00" fill="#2f4b7e" />
<text x="32.50" y="235.66" font-size="7.4" textLength="32.50" lengthAdjust="spacingAndGlyphs" fill="#3a3a3a" >+/+ (n=3)</text>
<rect x="70.80" y="230.50" width="11.00" height="5.00" fill="#a5002b" />
<text x="84.50" y="235.66" font-size="7.4" textLength="31.00" lengthAdjust="spacingAndGlyphs" fill="#3a3a3a" >fl/fl (n=3)</text>
<rect x="55.50" y="257.11" width="11.50" height="84.89" fill="#2f4b7e" />
<rect x="68.50" y="268.91" width="11.00" height="73.09" fill="#a5002b" />
<rect x="86.80" y="332.63" width="11.20" height="9.37" fill="#2f4b7e" />
<rect x="99.50" y="321.39" width="11.00" height="20.61" fill="#a5002b" />
<line x1="46.80" y1="248.00" x2="46.80" y2="342.00" stroke="#111" stroke-width="1.0" />
<line x1="46.80" y1="342.00" x2="118.00" y2="342.00" stroke="#111" stroke-width="1.0" />
<line x1="44.20" y1="248.30" x2="46.80" y2="248.30" stroke="#111" stroke-width="1.0" />
<text x="28.80" y="251.25" font-size="8.2" textLength="13.70" lengthAdjust="spacingAndGlyphs" >100</text>
<line x1="44.20" y1="267.04" x2="46.80" y2="267.04" stroke="#111" stroke-width="1.0" />
<text x="33.50" y="269.99" font-size="8.2" textLength="9.00" lengthAdjust="spacingAndGlyphs" >80</text>
<line x1="44.20" y1="285.78" x2="46.80" y2="285.78" stroke="#111" stroke-width="1.0" />
<text x="33.50" y="288.73" font-size="8.2" textLength="9.00" lengthAdjust="spacingAndGlyphs" >60</text>
<line x1="44.20" y1="304.52" x2="46.80" y2="304.52" stroke="#111" stroke-width="1.0" />
<text x="33.50" y="307.47" font-size="8.2" textLength="9.00" lengthAdjust="spacingAndGlyphs" >40</text>
<line x1="44.20" y1="323.26" x2="46.80" y2="323.26" stroke="#111" stroke-width="1.0" />
<text x="33.50" y="326.21" font-size="8.2" textLength="9.00" lengthAdjust="spacingAndGlyphs" >20</text>
<line x1="44.20" y1="342.00" x2="46.80" y2="342.00" stroke="#111" stroke-width="1.0" />
<text x="38.30" y="344.95" font-size="8.2" textLength="4.20" lengthAdjust="spacingAndGlyphs" >0</text>
<line x1="67.80" y1="342.00" x2="67.80" y2="344.60" stroke="#111" stroke-width="1.0" />
<line x1="98.80" y1="342.00" x2="98.80" y2="344.60" stroke="#111" stroke-width="1.0" />
<text x="53.30" y="355.60" font-size="8.6" textLength="28.50" lengthAdjust="spacingAndGlyphs" class="t" >Negtive</text>
<text x="85.80" y="355.60" font-size="8.6" textLength="25.50" lengthAdjust="spacingAndGlyphs" class="t" >Postive</text>
<text class="t" x="53.8" y="246.2" font-size="8.4" textLength="28.2" lengthAdjust="spacingAndGlyphs"><tspan font-style="italic">p</tspan>=0.033</text>
<line x1="61.00" y1="250.30" x2="74.50" y2="250.30" stroke="#111" stroke-width="0.9" />
<text class="t" x="84.5" y="301.8" font-size="8.4" textLength="28.0" lengthAdjust="spacingAndGlyphs"><tspan font-style="italic">p</tspan>=0.033</text>
<line x1="92.00" y1="305.50" x2="105.00" y2="305.50" stroke="#111" stroke-width="0.9" />
<text transform="translate(23.28,339.50) rotate(-90)" x="0" y="0" font-size="9.1" textLength="90.70" lengthAdjust="spacingAndGlyphs" fill="#222">Sub-population percentage</text>
<line x1="61.20" y1="254.50" x2="61.20" y2="258.50" stroke="#111" stroke-width="0.9" />
<line x1="58.60" y1="254.50" x2="63.80" y2="254.50" stroke="#111" stroke-width="0.9" />
<line x1="58.60" y1="258.50" x2="63.80" y2="258.50" stroke="#111" stroke-width="0.9" />
<circle cx="58.50" cy="254.20" r="1.8" fill="#111"/>
<circle cx="61.30" cy="259.80" r="1.8" fill="#111"/>
<circle cx="64.00" cy="258.20" r="1.8" fill="#111"/>
<line x1="74.00" y1="265.50" x2="74.00" y2="272.00" stroke="#111" stroke-width="0.9" />
<line x1="71.40" y1="265.50" x2="76.60" y2="265.50" stroke="#111" stroke-width="0.9" />
<line x1="71.40" y1="272.00" x2="76.60" y2="272.00" stroke="#111" stroke-width="0.9" />
<circle cx="73.80" cy="262.80" r="1.5" fill="none" stroke="#111" stroke-width="0.9"/>
<circle cx="71.40" cy="273.30" r="1.5" fill="none" stroke="#111" stroke-width="0.9"/>
<circle cx="76.60" cy="270.20" r="1.5" fill="none" stroke="#111" stroke-width="0.9"/>
<circle cx="73.80" cy="271.40" r="1.5" fill="none" stroke="#111" stroke-width="0.9"/>
<line x1="92.50" y1="331.00" x2="92.50" y2="334.00" stroke="#111" stroke-width="0.9" />
<line x1="89.90" y1="331.00" x2="95.10" y2="331.00" stroke="#111" stroke-width="0.9" />
<line x1="89.90" y1="334.00" x2="95.10" y2="334.00" stroke="#111" stroke-width="0.9" />
<circle cx="89.50" cy="331.00" r="1.5" fill="#111"/>
<circle cx="92.50" cy="333.00" r="1.5" fill="#111"/>
<circle cx="94.50" cy="334.00" r="1.5" fill="#111"/>
<line x1="105.00" y1="317.50" x2="105.00" y2="325.00" stroke="#111" stroke-width="0.9" />
<line x1="102.40" y1="317.50" x2="107.60" y2="317.50" stroke="#111" stroke-width="0.9" />
<line x1="102.40" y1="325.00" x2="107.60" y2="325.00" stroke="#111" stroke-width="0.9" />
<circle cx="103.00" cy="316.50" r="1.4" fill="none" stroke="#111" stroke-width="0.8"/>
<circle cx="107.00" cy="320.00" r="1.4" fill="none" stroke="#111" stroke-width="0.8"/>
<circle cx="105.00" cy="324.50" r="1.4" fill="none" stroke="#111" stroke-width="0.8"/>
<text x="245.90" y="210.30" font-size="10.0" textLength="68.30" lengthAdjust="spacingAndGlyphs" class="t" >12 weeks Chase</text>
<text x="192.00" y="224.50" font-size="10.2" textLength="51.80" lengthAdjust="spacingAndGlyphs" class="t" >SLAM HSCs</text>
<line x1="186.30" y1="228.80" x2="249.50" y2="228.80" stroke="#111" stroke-width="1.0" />
<rect x="176.30" y="235.00" width="4.50" height="5.00" fill="#6cb33f" />
<text x="183.80" y="240.24" font-size="7.6" textLength="55.00" lengthAdjust="spacingAndGlyphs" fill="#3a3a3a" >No Doxy control</text>
<rect x="176.30" y="245.60" width="4.50" height="5.00" fill="#2f4b7e" />
<text x="183.80" y="250.84" font-size="7.6" textLength="32.50" lengthAdjust="spacingAndGlyphs" fill="#3a3a3a" >+/+ (n=3)</text>
<rect x="223.00" y="245.60" width="4.30" height="5.00" fill="#a5002b" />
<text x="230.00" y="250.84" font-size="7.6" textLength="31.00" lengthAdjust="spacingAndGlyphs" fill="#3a3a3a" >fl/fl (n=3)</text>
<polygon points="186.5,341.8 187.2,340.9 192.0,336.0 196.6,331.5 199.1,327.7 201.6,322.7 204.1,316.4 206.0,313.9 207.2,316.4 209.1,307.6 210.4,308.9 211.6,306.4 213.1,302.6 214.4,307.0 215.6,304.5 216.9,293.8 218.2,297.6 219.4,295.7 221.3,291.3 222.5,288.8 223.8,292.6 225.1,296.3 226.9,290.0 228.8,283.2 230.1,286.3 231.3,295.0 233.2,298.8 235.1,298.2 237.0,292.6 238.2,296.3 239.5,301.3 241.4,302.0 243.2,297.0 244.5,293.2 245.8,297.6 247.0,307.6 248.3,322.7 249.5,331.5 251.4,337.7 253.3,340.9 254.0,341.8" fill="#3d61a3" fill-opacity="0.52" stroke="#2f4f8f" stroke-width="0.9"/>
<polygon points="176.5,341.8 177.1,336.5 180.3,332.7 183.4,329.0 185.3,327.7 186.5,329.6 187.8,325.2 189.0,322.0 190.3,323.3 192.2,322.7 193.4,316.4 194.7,310.8 196.0,307.6 197.2,303.2 198.5,296.3 199.1,295.0 200.3,300.0 201.6,295.0 202.9,292.6 204.1,285.0 205.4,281.9 207.2,283.8 209.1,283.2 210.0,286.3 211.0,287.5 212.5,288.8 214.4,291.3 215.6,293.2 216.9,295.7 217.3,302.6 217.8,308.2 219.4,306.4 220.7,304.5 221.9,308.9 223.8,308.2 225.7,308.9 226.9,313.9 228.2,318.9 229.4,318.3 230.7,317.7 232.6,322.0 235.1,326.4 237.6,330.2 240.7,334.0 243.9,337.7 247.6,340.9 248.5,341.8" fill="#b5093d" fill-opacity="0.52" stroke="#b0103d" stroke-width="0.9"/>
<polygon points="176.3,341.8 176.3,258.2 176.8,270.0 177.2,279.4 179.0,282.5 181.5,290.0 183.4,300.0 185.3,311.4 187.8,325.2 190.3,330.2 194.0,331.5 196.6,332.7 199.1,335.2 202.9,339.0 206.6,341.5 207.0,341.8" fill="#86c866" fill-opacity="0.55" stroke="#62b240" stroke-width="0.9"/>
<rect x="175.6" y="257.6" width="85.00" height="84.20" fill="none" stroke="#111" stroke-width="1"/>
<line x1="173.00" y1="261.30" x2="175.60" y2="261.30" stroke="#111" stroke-width="1.0" />
<text x="157.00" y="264.18" font-size="8.0" textLength="13.60" lengthAdjust="spacingAndGlyphs" >100</text>
<line x1="173.00" y1="277.40" x2="175.60" y2="277.40" stroke="#111" stroke-width="1.0" />
<text x="161.50" y="280.28" font-size="8.0" textLength="9.10" lengthAdjust="spacingAndGlyphs" >80</text>
<line x1="173.00" y1="293.50" x2="175.60" y2="293.50" stroke="#111" stroke-width="1.0" />
<text x="161.50" y="296.38" font-size="8.0" textLength="9.10" lengthAdjust="spacingAndGlyphs" >60</text>
<line x1="173.00" y1="309.60" x2="175.60" y2="309.60" stroke="#111" stroke-width="1.0" />
<text x="161.50" y="312.48" font-size="8.0" textLength="9.10" lengthAdjust="spacingAndGlyphs" >40</text>
<line x1="173.00" y1="325.70" x2="175.60" y2="325.70" stroke="#111" stroke-width="1.0" />
<text x="161.50" y="328.58" font-size="8.0" textLength="9.10" lengthAdjust="spacingAndGlyphs" >20</text>
<line x1="173.00" y1="341.80" x2="175.60" y2="341.80" stroke="#111" stroke-width="1.0" />
<text x="166.70" y="344.68" font-size="8.0" textLength="3.90" lengthAdjust="spacingAndGlyphs" >0</text>
<line x1="174.00" y1="337.78" x2="175.60" y2="337.78" stroke="#111" stroke-width="0.8" />
<line x1="174.00" y1="333.75" x2="175.60" y2="333.75" stroke="#111" stroke-width="0.8" />
<line x1="174.00" y1="329.73" x2="175.60" y2="329.73" stroke="#111" stroke-width="0.8" />
<line x1="174.00" y1="321.68" x2="175.60" y2="321.68" stroke="#111" stroke-width="0.8" />
<line x1="174.00" y1="317.65" x2="175.60" y2="317.65" stroke="#111" stroke-width="0.8" />
<line x1="174.00" y1="313.62" x2="175.60" y2="313.62" stroke="#111" stroke-width="0.8" />
<line x1="174.00" y1="305.57" x2="175.60" y2="305.57" stroke="#111" stroke-width="0.8" />
<line x1="174.00" y1="301.55" x2="175.60" y2="301.55" stroke="#111" stroke-width="0.8" />
<line x1="174.00" y1="297.52" x2="175.60" y2="297.52" stroke="#111" stroke-width="0.8" />
<line x1="174.00" y1="289.48" x2="175.60" y2="289.48" stroke="#111" stroke-width="0.8" />
<line x1="174.00" y1="285.45" x2="175.60" y2="285.45" stroke="#111" stroke-width="0.8" />
<line x1="174.00" y1="281.43" x2="175.60" y2="281.43" stroke="#111" stroke-width="0.8" />
<line x1="174.00" y1="273.38" x2="175.60" y2="273.38" stroke="#111" stroke-width="0.8" />
<line x1="174.00" y1="269.35" x2="175.60" y2="269.35" stroke="#111" stroke-width="0.8" />
<line x1="174.00" y1="265.32" x2="175.60" y2="265.32" stroke="#111" stroke-width="0.8" />
<line x1="180.00" y1="341.80" x2="180.00" y2="344.30" stroke="#111" stroke-width="1.0" />
<line x1="197.00" y1="341.80" x2="197.00" y2="344.30" stroke="#111" stroke-width="1.0" />
<line x1="215.00" y1="341.80" x2="215.00" y2="344.30" stroke="#111" stroke-width="1.0" />
<line x1="233.80" y1="341.80" x2="233.80" y2="344.30" stroke="#111" stroke-width="1.0" />
<line x1="253.00" y1="341.80" x2="253.00" y2="344.30" stroke="#111" stroke-width="1.0" />
<text x="178.00" y="355.04" font-size="7.9" textLength="4.20" lengthAdjust="spacingAndGlyphs" >0</text>
<text x="190.20" y="355.11" font-size="7.8">10<tspan font-size="5.15" dy="-2.89">2</tspan></text>
<text x="208.20" y="355.11" font-size="7.8">10<tspan font-size="5.15" dy="-2.89">3</tspan></text>
<text x="227.00" y="355.11" font-size="7.8">10<tspan font-size="5.15" dy="-2.89">4</tspan></text>
<text x="246.20" y="355.11" font-size="7.8">10<tspan font-size="5.15" dy="-2.89">5</tspan></text>
<line x1="177.00" y1="341.80" x2="177.00" y2="343.20" stroke="#111" stroke-width="0.7" />
<line x1="178.00" y1="341.80" x2="178.00" y2="343.20" stroke="#111" stroke-width="0.7" />
<line x1="179.00" y1="341.80" x2="179.00" y2="343.20" stroke="#111" stroke-width="0.7" />
<line x1="181.00" y1="341.80" x2="181.00" y2="343.20" stroke="#111" stroke-width="0.7" />
<line x1="182.00" y1="341.80" x2="182.00" y2="343.20" stroke="#111" stroke-width="0.7" />
<line x1="183.00" y1="341.80" x2="183.00" y2="343.20" stroke="#111" stroke-width="0.7" />
<line x1="185.00" y1="341.80" x2="185.00" y2="343.20" stroke="#111" stroke-width="0.7" />
<line x1="187.50" y1="341.80" x2="187.50" y2="343.20" stroke="#111" stroke-width="0.7" />
<line x1="190.00" y1="341.80" x2="190.00" y2="343.20" stroke="#111" stroke-width="0.7" />
<line x1="192.00" y1="341.80" x2="192.00" y2="343.20" stroke="#111" stroke-width="0.7" />
<line x1="194.00" y1="341.80" x2="194.00" y2="343.20" stroke="#111" stroke-width="0.7" />
<line x1="199.50" y1="341.80" x2="199.50" y2="343.20" stroke="#111" stroke-width="0.7" />
<line x1="202.00" y1="341.80" x2="202.00" y2="343.20" stroke="#111" stroke-width="0.7" />
<line x1="205.00" y1="341.80" x2="205.00" y2="343.20" stroke="#111" stroke-width="0.7" />
<line x1="207.00" y1="341.80" x2="207.00" y2="343.20" stroke="#111" stroke-width="0.7" />
<line x1="210.00" y1="341.80" x2="210.00" y2="343.20" stroke="#111" stroke-width="0.7" />
<line x1="212.00" y1="341.80" x2="212.00" y2="343.20" stroke="#111" stroke-width="0.7" />
<line x1="218.00" y1="341.80" x2="218.00" y2="343.20" stroke="#111" stroke-width="0.7" />
<line x1="221.00" y1="341.80" x2="221.00" y2="343.20" stroke="#111" stroke-width="0.7" />
<line x1="224.00" y1="341.80" x2="224.00" y2="343.20" stroke="#111" stroke-width="0.7" />
<line x1="226.00" y1="341.80" x2="226.00" y2="343.20" stroke="#111" stroke-width="0.7" />
<line x1="229.00" y1="341.80" x2="229.00" y2="343.20" stroke="#111" stroke-width="0.7" />
<line x1="231.00" y1="341.80" x2="231.00" y2="343.20" stroke="#111" stroke-width="0.7" />
<line x1="237.00" y1="341.80" x2="237.00" y2="343.20" stroke="#111" stroke-width="0.7" />
<line x1="240.00" y1="341.80" x2="240.00" y2="343.20" stroke="#111" stroke-width="0.7" />
<line x1="243.00" y1="341.80" x2="243.00" y2="343.20" stroke="#111" stroke-width="0.7" />
<line x1="245.00" y1="341.80" x2="245.00" y2="343.20" stroke="#111" stroke-width="0.7" />
<line x1="248.00" y1="341.80" x2="248.00" y2="343.20" stroke="#111" stroke-width="0.7" />
<line x1="250.00" y1="341.80" x2="250.00" y2="343.20" stroke="#111" stroke-width="0.7" />
<line x1="256.00" y1="341.80" x2="256.00" y2="343.20" stroke="#111" stroke-width="0.7" />
<line x1="258.00" y1="341.80" x2="258.00" y2="343.20" stroke="#111" stroke-width="0.7" />
<line x1="175.60" y1="279.40" x2="220.40" y2="279.40" stroke="#111" stroke-width="0.9" />
<line x1="220.40" y1="279.00" x2="220.40" y2="282.30" stroke="#111" stroke-width="0.9" />
<text x="190.80" y="276.48" font-size="8.0" textLength="14.20" lengthAdjust="spacingAndGlyphs" >Low</text>
<polyline points="219.6,277 219.6,273.7 233.5,273.7 233.5,277" fill="none" stroke="#111" stroke-width="0.9"/>
<text x="219.00" y="270.48" font-size="8.0" textLength="13.50" lengthAdjust="spacingAndGlyphs" >Mid</text>
<polyline points="233.5,270.8 233.5,267.3 260.6,267.3" fill="none" stroke="#111" stroke-width="0.9"/>
<text x="238.80" y="263.98" font-size="8.0" textLength="15.80" lengthAdjust="spacingAndGlyphs" >High</text>
<text transform="translate(150.70,314.50) rotate(-90)" x="0" y="0" font-size="8.9" textLength="30.70" lengthAdjust="spacingAndGlyphs" fill="#222">% of max</text>
<line x1="148.30" y1="365.00" x2="148.30" y2="323.00" stroke="#111" stroke-width="0.9" />
<path d="M148.3,319.2 L146.0,324.4 L150.6,324.4 Z" fill="#111"/>
<line x1="148.30" y1="365.00" x2="194.00" y2="365.00" stroke="#111" stroke-width="0.9" />
<path d="M198.2,365 L193.0,362.7 L193.0,367.3 Z" fill="#111"/>
<text x="202.50" y="368.10" font-size="8.6" textLength="30.80" lengthAdjust="spacingAndGlyphs" class="t" >H2B-GFP</text>
<text x="315.70" y="224.50" font-size="10.2" textLength="51.30" lengthAdjust="spacingAndGlyphs" class="t" >SLAM HSCs</text>
<rect x="275.60" y="230.50" width="10.90" height="4.90" fill="#5aa63a" />
<text x="289.70" y="235.76" font-size="7.8" textLength="15.90" lengthAdjust="spacingAndGlyphs" fill="#3a3a3a" >High</text>
<rect x="312.20" y="230.50" width="10.70" height="4.90" fill="#b7d89e" />
<text x="326.00" y="235.76" font-size="7.8" textLength="13.00" lengthAdjust="spacingAndGlyphs" fill="#3a3a3a" >Mid</text>
<rect x="346.00" y="230.50" width="11.00" height="4.90" fill="#e6f1dc" />
<text x="359.80" y="235.76" font-size="7.8" textLength="13.60" lengthAdjust="spacingAndGlyphs" fill="#3a3a3a" >Low</text>
<rect x="312.40" y="269.83" width="18.60" height="72.27" fill="#e6f1dc" />
<rect x="312.40" y="290.27" width="18.60" height="51.83" fill="#b7d89e" />
<rect x="312.40" y="314.14" width="18.60" height="27.96" fill="#5aa63a" />
<rect x="350.40" y="269.10" width="18.60" height="73.00" fill="#e6f1dc" />
<rect x="350.40" y="320.93" width="18.60" height="21.17" fill="#b7d89e" />
<rect x="350.40" y="335.53" width="18.60" height="6.57" fill="#5aa63a" />
<line x1="302.60" y1="251.20" x2="302.60" y2="342.10" stroke="#111" stroke-width="1.0" />
<line x1="302.60" y1="342.10" x2="379.00" y2="342.10" stroke="#111" stroke-width="1.0" />
<line x1="300.00" y1="254.50" x2="302.60" y2="254.50" stroke="#111" stroke-width="1.0" />
<text x="283.80" y="257.45" font-size="8.2" textLength="13.40" lengthAdjust="spacingAndGlyphs" >120</text>
<line x1="300.00" y1="283.70" x2="302.60" y2="283.70" stroke="#111" stroke-width="1.0" />
<text x="288.20" y="286.65" font-size="8.2" textLength="9.00" lengthAdjust="spacingAndGlyphs" >80</text>
<line x1="300.00" y1="312.90" x2="302.60" y2="312.90" stroke="#111" stroke-width="1.0" />
<text x="288.20" y="315.85" font-size="8.2" textLength="9.00" lengthAdjust="spacingAndGlyphs" >40</text>
<line x1="300.00" y1="342.10" x2="302.60" y2="342.10" stroke="#111" stroke-width="1.0" />
<text x="293.40" y="345.05" font-size="8.2" textLength="3.80" lengthAdjust="spacingAndGlyphs" >0</text>
<line x1="321.70" y1="342.10" x2="321.70" y2="344.70" stroke="#111" stroke-width="1.0" />
<line x1="359.70" y1="342.10" x2="359.70" y2="344.70" stroke="#111" stroke-width="1.0" />
<line x1="321.70" y1="314.14" x2="321.70" y2="309.98" stroke="#222" stroke-width="1.0" />
<line x1="317.00" y1="309.98" x2="326.40" y2="309.98" stroke="#222" stroke-width="1.0" />
<line x1="321.70" y1="290.27" x2="321.70" y2="289.18" stroke="#222" stroke-width="1.0" />
<line x1="317.00" y1="289.18" x2="326.40" y2="289.18" stroke="#222" stroke-width="1.0" />
<line x1="321.70" y1="269.83" x2="321.70" y2="265.01" stroke="#222" stroke-width="1.0" />
<line x1="317.00" y1="265.01" x2="326.40" y2="265.01" stroke="#222" stroke-width="1.0" />
<line x1="359.70" y1="335.53" x2="359.70" y2="330.42" stroke="#222" stroke-width="1.0" />
<line x1="355.00" y1="330.42" x2="364.40" y2="330.42" stroke="#222" stroke-width="1.0" />
<line x1="359.70" y1="320.93" x2="359.70" y2="316.55" stroke="#222" stroke-width="1.0" />
<line x1="355.00" y1="316.55" x2="364.40" y2="316.55" stroke="#222" stroke-width="1.0" />
<line x1="359.70" y1="269.10" x2="359.70" y2="258.88" stroke="#222" stroke-width="1.0" />
<line x1="355.00" y1="258.88" x2="364.40" y2="258.88" stroke="#222" stroke-width="1.0" />
<text x="315.50" y="356.02" font-size="8.4" textLength="12.30" lengthAdjust="spacingAndGlyphs" class="t" >+/+</text>
<text x="353.40" y="356.02" font-size="8.4" textLength="12.20" lengthAdjust="spacingAndGlyphs" class="t" >fl/fl</text>
<text x="322.40" y="252.95" font-size="8.2" textLength="32.60" lengthAdjust="spacingAndGlyphs" font-style="italic" class="t" >p=0.0004</text>
<line x1="318.50" y1="256.30" x2="359.30" y2="256.30" stroke="#111" stroke-width="0.9" />
<text transform="translate(279.00,342.60) rotate(-90)" x="0" y="0" font-size="8.9" textLength="92.10" lengthAdjust="spacingAndGlyphs" fill="#222">Sub-population percentage</text>
<text x="438.80" y="212.50" font-size="10.0" textLength="60.00" lengthAdjust="spacingAndGlyphs" class="t" >Mitochondrial</text>
<text x="425.00" y="223.20" font-size="10.0" textLength="88.00" lengthAdjust="spacingAndGlyphs" class="t" >membrane potential</text>
<rect x="402.00" y="230.80" width="11.80" height="4.70" fill="#2f4b7e" />
<text x="416.30" y="235.81" font-size="7.4" textLength="35.00" lengthAdjust="spacingAndGlyphs" fill="#3a3a3a" >+/+(n=12)</text>
<rect x="457.50" y="230.80" width="11.30" height="4.70" fill="#a5002b" />
<text x="472.00" y="235.81" font-size="7.4" textLength="32.50" lengthAdjust="spacingAndGlyphs" fill="#3a3a3a" >fl/fl(n=12)</text>
<rect x="443.40" y="296.20" width="22.80" height="45.90" fill="#2f4b7e" />
<rect x="470.90" y="270.80" width="22.50" height="71.30" fill="#a5002b" />
<line x1="435.40" y1="251.70" x2="435.40" y2="342.10" stroke="#111" stroke-width="1.0" />
<line x1="435.40" y1="342.10" x2="502.60" y2="342.10" stroke="#111" stroke-width="1.0" />
<line x1="432.80" y1="254.50" x2="435.40" y2="254.50" stroke="#111" stroke-width="1.0" />
<text x="419.80" y="257.45" font-size="8.2" textLength="10.50" lengthAdjust="spacingAndGlyphs" >1.5</text>
<line x1="432.80" y1="283.70" x2="435.40" y2="283.70" stroke="#111" stroke-width="1.0" />
<text x="419.80" y="286.65" font-size="8.2" textLength="10.50" lengthAdjust="spacingAndGlyphs" >1.0</text>
<line x1="432.80" y1="312.90" x2="435.40" y2="312.90" stroke="#111" stroke-width="1.0" />
<text x="419.80" y="315.85" font-size="8.2" textLength="10.50" lengthAdjust="spacingAndGlyphs" >0.5</text>
<line x1="432.80" y1="342.10" x2="435.40" y2="342.10" stroke="#111" stroke-width="1.0" />
<text x="419.80" y="345.05" font-size="8.2" textLength="10.50" lengthAdjust="spacingAndGlyphs" >0.0</text>
<line x1="468.80" y1="342.10" x2="468.80" y2="344.70" stroke="#111" stroke-width="1.0" />
<text x="449.40" y="355.50" font-size="8.9" textLength="39.60" lengthAdjust="spacingAndGlyphs" class="t" >SLAM HSC</text>
<text x="452.50" y="247.11" font-size="7.8" textLength="32.00" lengthAdjust="spacingAndGlyphs" font-style="italic" class="t" >p&lt;0.0001</text>
<line x1="453.80" y1="250.30" x2="482.60" y2="250.30" stroke="#111" stroke-width="0.9" />
<text transform="translate(413.08,333.20) rotate(-90)" x="0" y="0" font-size="9.1" textLength="73.40" lengthAdjust="spacingAndGlyphs" fill="#222">Relative MFI of TMRM</text>
<line x1="454.90" y1="289.30" x2="454.90" y2="302.60" stroke="#111" stroke-width="0.9" />
<line x1="448.90" y1="289.30" x2="460.90" y2="289.30" stroke="#111" stroke-width="0.9" />
<line x1="448.90" y1="302.60" x2="460.90" y2="302.60" stroke="#111" stroke-width="0.9" />
<circle cx="454.90" cy="285.40" r="1.45" fill="#111"/>
<circle cx="447.00" cy="289.70" r="1.45" fill="#111"/>
<circle cx="446.10" cy="293.60" r="1.45" fill="#111"/>
<circle cx="451.80" cy="291.80" r="1.45" fill="#111"/>
<circle cx="450.60" cy="295.40" r="1.45" fill="#111"/>
<circle cx="457.40" cy="293.30" r="1.45" fill="#111"/>
<circle cx="459.20" cy="295.80" r="1.45" fill="#111"/>
<circle cx="462.80" cy="291.50" r="1.45" fill="#111"/>
<circle cx="463.70" cy="295.40" r="1.45" fill="#111"/>
<circle cx="454.90" cy="298.50" r="1.45" fill="#111"/>
<circle cx="452.30" cy="300.10" r="1.45" fill="#111"/>
<circle cx="457.40" cy="304.30" r="1.45" fill="#111"/>
<circle cx="454.90" cy="311.40" r="1.45" fill="#111"/>
<line x1="482.00" y1="264.40" x2="482.00" y2="277.60" stroke="#111" stroke-width="0.9" />
<line x1="476.30" y1="264.40" x2="487.70" y2="264.40" stroke="#111" stroke-width="0.9" />
<line x1="476.30" y1="277.60" x2="487.70" y2="277.60" stroke="#111" stroke-width="0.9" />
<circle cx="482.00" cy="255.70" r="1.6" fill="none" stroke="#111" stroke-width="0.9"/>
<circle cx="482.00" cy="262.60" r="1.6" fill="none" stroke="#111" stroke-width="0.9"/>
<circle cx="479.10" cy="267.60" r="1.6" fill="none" stroke="#111" stroke-width="0.9"/>
<circle cx="484.90" cy="266.90" r="1.6" fill="none" stroke="#111" stroke-width="0.9"/>
<circle cx="473.00" cy="270.80" r="1.6" fill="none" stroke="#111" stroke-width="0.9"/>
<circle cx="476.30" cy="273.00" r="1.6" fill="none" stroke="#111" stroke-width="0.9"/>
<circle cx="479.50" cy="274.80" r="1.6" fill="none" stroke="#111" stroke-width="0.9"/>
<circle cx="482.40" cy="274.40" r="1.6" fill="none" stroke="#111" stroke-width="0.9"/>
<circle cx="485.20" cy="273.70" r="1.6" fill="none" stroke="#111" stroke-width="0.9"/>
<circle cx="488.10" cy="271.50" r="1.6" fill="none" stroke="#111" stroke-width="0.9"/>
<circle cx="491.00" cy="270.80" r="1.6" fill="none" stroke="#111" stroke-width="0.9"/>
<circle cx="484.50" cy="277.30" r="1.6" fill="none" stroke="#111" stroke-width="0.9"/>
<circle cx="479.50" cy="281.60" r="1.6" fill="none" stroke="#111" stroke-width="0.9"/>
<text x="38.80" y="416.30" font-size="10.0" textLength="84.20" lengthAdjust="spacingAndGlyphs" class="t" >Mitochondrial mass</text>
<rect x="18.80" y="422.50" width="11.70" height="5.00" fill="#2f4b7e" />
<text x="33.30" y="427.66" font-size="7.4" textLength="30.50" lengthAdjust="spacingAndGlyphs" fill="#3a3a3a" >+/+(n=7)</text>
<rect x="69.50" y="422.50" width="11.30" height="5.00" fill="#a5002b" />
<text x="84.30" y="427.66" font-size="7.4" textLength="27.70" lengthAdjust="spacingAndGlyphs" fill="#3a3a3a" >fl/fl(n=7)</text>
<rect x="56.00" y="479.60" width="23.70" height="56.70" fill="#2f4b7e" />
<rect x="84.10" y="472.10" width="23.90" height="64.20" fill="#a5002b" />
<line x1="47.50" y1="443.80" x2="47.50" y2="536.30" stroke="#111" stroke-width="1.0" />
<line x1="47.50" y1="536.30" x2="113.80" y2="536.30" stroke="#111" stroke-width="1.0" />
<line x1="44.90" y1="445.55" x2="47.50" y2="445.55" stroke="#111" stroke-width="1.0" />
<text x="31.00" y="448.50" font-size="8.2" textLength="10.30" lengthAdjust="spacingAndGlyphs" >1.5</text>
<line x1="44.90" y1="475.80" x2="47.50" y2="475.80" stroke="#111" stroke-width="1.0" />
<text x="31.00" y="478.75" font-size="8.2" textLength="10.30" lengthAdjust="spacingAndGlyphs" >1.0</text>
<line x1="44.90" y1="506.05" x2="47.50" y2="506.05" stroke="#111" stroke-width="1.0" />
<text x="31.00" y="509.00" font-size="8.2" textLength="10.30" lengthAdjust="spacingAndGlyphs" >0.5</text>
<line x1="44.90" y1="536.30" x2="47.50" y2="536.30" stroke="#111" stroke-width="1.0" />
<text x="31.00" y="539.25" font-size="8.2" textLength="10.30" lengthAdjust="spacingAndGlyphs" >0.0</text>
<line x1="82.00" y1="536.30" x2="82.00" y2="538.90" stroke="#111" stroke-width="1.0" />
<text x="62.00" y="549.40" font-size="8.6" textLength="40.00" lengthAdjust="spacingAndGlyphs" class="t" >SLAM HSC</text>
<text x="71.30" y="450.15" font-size="8.2" textLength="25.00" lengthAdjust="spacingAndGlyphs" font-style="italic" class="t" >p=0.13</text>
<line x1="69.30" y1="453.80" x2="98.30" y2="453.80" stroke="#111" stroke-width="0.9" />
<text transform="translate(25.28,523.00) rotate(-90)" x="0" y="0" font-size="9.1" textLength="68.00" lengthAdjust="spacingAndGlyphs" fill="#222">Relative MFI of MTG</text>
<line x1="67.60" y1="471.50" x2="67.60" y2="486.80" stroke="#111" stroke-width="0.9" />
<line x1="62.10" y1="471.50" x2="73.10" y2="471.50" stroke="#111" stroke-width="0.9" />
<line x1="62.10" y1="486.80" x2="73.10" y2="486.80" stroke="#111" stroke-width="0.9" />
<circle cx="67.60" cy="469.80" r="1.55" fill="#111"/>
<circle cx="71.00" cy="470.60" r="1.55" fill="#111"/>
<circle cx="72.20" cy="471.50" r="1.55" fill="#111"/>
<circle cx="62.10" cy="475.60" r="1.55" fill="#111"/>
<circle cx="65.30" cy="479.60" r="1.55" fill="#111"/>
<circle cx="73.30" cy="483.60" r="1.55" fill="#111"/>
<circle cx="70.50" cy="486.80" r="1.55" fill="#111"/>
<circle cx="65.30" cy="489.40" r="1.55" fill="#111"/>
<line x1="95.80" y1="464.80" x2="95.80" y2="479.60" stroke="#111" stroke-width="0.9" />
<line x1="90.00" y1="464.80" x2="101.60" y2="464.80" stroke="#111" stroke-width="0.9" />
<line x1="90.00" y1="479.60" x2="101.60" y2="479.60" stroke="#111" stroke-width="0.9" />
<circle cx="95.60" cy="462.10" r="1.4" fill="none" stroke="#111" stroke-width="0.9"/>
<circle cx="98.10" cy="464.80" r="1.4" fill="none" stroke="#111" stroke-width="0.9"/>
<circle cx="90.10" cy="468.10" r="1.4" fill="none" stroke="#111" stroke-width="0.9"/>
<circle cx="92.90" cy="471.90" r="1.4" fill="none" stroke="#111" stroke-width="0.9"/>
<circle cx="101.40" cy="475.30" r="1.4" fill="none" stroke="#111" stroke-width="0.9"/>
<circle cx="92.60" cy="481.30" r="1.4" fill="none" stroke="#111" stroke-width="0.9"/>
<circle cx="98.10" cy="481.00" r="1.4" fill="none" stroke="#111" stroke-width="0.9"/>
<circle cx="95.80" cy="480.50" r="1.4" fill="none" stroke="#111" stroke-width="0.9"/>
<text x="158.80" y="405.00" font-size="10.0" textLength="104.20" lengthAdjust="spacingAndGlyphs" class="t" >Individual mitochondrial</text>
<text x="166.30" y="416.30" font-size="10.0" textLength="88.00" lengthAdjust="spacingAndGlyphs" class="t" >membrane potential</text>
<rect x="148.00" y="422.50" width="11.50" height="5.00" fill="#2f4b7e" />
<text x="162.50" y="427.66" font-size="7.4" textLength="30.00" lengthAdjust="spacingAndGlyphs" fill="#3a3a3a" >+/+(n=7)</text>
<rect x="198.80" y="422.50" width="11.20" height="5.00" fill="#a5002b" />
<text x="213.30" y="427.66" font-size="7.4" textLength="28.00" lengthAdjust="spacingAndGlyphs" fill="#3a3a3a" >fl/fl(n=7)</text>
<rect x="185.20" y="483.20" width="23.90" height="53.10" fill="#2f4b7e" />
<rect x="213.10" y="467.90" width="24.00" height="68.40" fill="#a5002b" />
<line x1="177.00" y1="442.50" x2="177.00" y2="536.30" stroke="#111" stroke-width="1.0" />
<line x1="177.00" y1="536.30" x2="243.80" y2="536.30" stroke="#111" stroke-width="1.0" />
<line x1="174.40" y1="445.10" x2="177.00" y2="445.10" stroke="#111" stroke-width="1.0" />
<text x="160.50" y="448.05" font-size="8.2" textLength="10.30" lengthAdjust="spacingAndGlyphs" >1.6</text>
<line x1="174.40" y1="475.70" x2="177.00" y2="475.70" stroke="#111" stroke-width="1.0" />
<text x="160.50" y="478.65" font-size="8.2" textLength="10.30" lengthAdjust="spacingAndGlyphs" >1.2</text>
<line x1="174.40" y1="506.30" x2="177.00" y2="506.30" stroke="#111" stroke-width="1.0" />
<text x="160.50" y="509.25" font-size="8.2" textLength="10.30" lengthAdjust="spacingAndGlyphs" >0.8</text>
<line x1="174.40" y1="536.30" x2="177.00" y2="536.30" stroke="#111" stroke-width="1.0" />
<text x="160.50" y="539.25" font-size="8.2" textLength="10.30" lengthAdjust="spacingAndGlyphs" >0.0</text>
<line x1="211.30" y1="536.30" x2="211.30" y2="538.90" stroke="#111" stroke-width="1.0" />
<text x="191.30" y="549.40" font-size="8.6" textLength="40.00" lengthAdjust="spacingAndGlyphs" class="t" >SLAM HSC</text>
<text x="197.20" y="438.88" font-size="8.0" textLength="29.10" lengthAdjust="spacingAndGlyphs" font-style="italic" class="t" >p=0.012</text>
<line x1="196.90" y1="442.60" x2="226.30" y2="442.60" stroke="#111" stroke-width="0.9" />
<text transform="translate(154.58,536.30) rotate(-90)" x="0" y="0" font-size="9.1" textLength="95.00" lengthAdjust="spacingAndGlyphs" fill="#222">Relative ratio of TMRM/MTG</text>
<line x1="197.00" y1="473.60" x2="197.00" y2="492.50" stroke="#111" stroke-width="0.9" />
<line x1="191.20" y1="473.60" x2="202.80" y2="473.60" stroke="#111" stroke-width="0.9" />
<line x1="191.20" y1="492.50" x2="202.80" y2="492.50" stroke="#111" stroke-width="0.9" />
<circle cx="196.80" cy="468.20" r="1.55" fill="#111"/>
<circle cx="194.90" cy="476.50" r="1.55" fill="#111"/>
<circle cx="198.70" cy="476.90" r="1.55" fill="#111"/>
<circle cx="197.00" cy="483.00" r="1.55" fill="#111"/>
<circle cx="197.00" cy="489.60" r="1.55" fill="#111"/>
<circle cx="199.10" cy="492.50" r="1.55" fill="#111"/>
<circle cx="194.90" cy="494.20" r="1.55" fill="#111"/>
<line x1="225.30" y1="458.30" x2="225.30" y2="477.60" stroke="#111" stroke-width="0.9" />
<line x1="219.50" y1="458.30" x2="231.10" y2="458.30" stroke="#111" stroke-width="0.9" />
<line x1="219.50" y1="477.60" x2="231.10" y2="477.60" stroke="#111" stroke-width="0.9" />
<circle cx="225.30" cy="456.30" r="1.4" fill="none" stroke="#111" stroke-width="0.9"/>
<circle cx="222.40" cy="458.30" r="1.4" fill="none" stroke="#111" stroke-width="0.9"/>
<circle cx="227.60" cy="461.30" r="1.4" fill="none" stroke="#111" stroke-width="0.9"/>
<circle cx="225.30" cy="468.20" r="1.4" fill="none" stroke="#111" stroke-width="0.9"/>
<circle cx="222.90" cy="474.20" r="1.4" fill="none" stroke="#111" stroke-width="0.9"/>
<circle cx="227.20" cy="474.50" r="1.4" fill="none" stroke="#111" stroke-width="0.9"/>
<circle cx="225.30" cy="482.20" r="1.4" fill="none" stroke="#111" stroke-width="0.9"/>
<text x="314.50" y="416.30" font-size="10.0" textLength="43.80" lengthAdjust="spacingAndGlyphs" class="t" >Apoptosis</text>
<rect x="286.30" y="422.50" width="11.20" height="5.00" fill="#2f4b7e" />
<text x="300.50" y="427.66" font-size="7.4" textLength="30.80" lengthAdjust="spacingAndGlyphs" fill="#3a3a3a" >+/+(n=4)</text>
<rect x="337.00" y="422.50" width="11.00" height="5.00" fill="#a5002b" />
<text x="350.80" y="427.66" font-size="7.4" textLength="28.70" lengthAdjust="spacingAndGlyphs" fill="#3a3a3a" >fl/fl(n=4)</text>
<rect x="320.20" y="493.20" width="14.70" height="43.10" fill="#2f4b7e" />
<rect x="337.40" y="507.80" width="14.70" height="28.50" fill="#a5002b" />
<line x1="315.00" y1="450.50" x2="315.00" y2="536.30" stroke="#111" stroke-width="1.0" />
<line x1="315.00" y1="536.30" x2="357.00" y2="536.30" stroke="#111" stroke-width="1.0" />
<line x1="312.40" y1="453.02" x2="315.00" y2="453.02" stroke="#111" stroke-width="1.0" />
<text x="304.60" y="455.97" font-size="8.2" textLength="4.20" lengthAdjust="spacingAndGlyphs" >8</text>
<line x1="312.40" y1="473.84" x2="315.00" y2="473.84" stroke="#111" stroke-width="1.0" />
<text x="304.60" y="476.79" font-size="8.2" textLength="4.20" lengthAdjust="spacingAndGlyphs" >6</text>
<line x1="312.40" y1="494.66" x2="315.00" y2="494.66" stroke="#111" stroke-width="1.0" />
<text x="304.60" y="497.61" font-size="8.2" textLength="4.20" lengthAdjust="spacingAndGlyphs" >4</text>
<line x1="312.40" y1="515.48" x2="315.00" y2="515.48" stroke="#111" stroke-width="1.0" />
<text x="304.60" y="518.43" font-size="8.2" textLength="4.20" lengthAdjust="spacingAndGlyphs" >2</text>
<line x1="312.40" y1="536.30" x2="315.00" y2="536.30" stroke="#111" stroke-width="1.0" />
<text x="304.60" y="539.25" font-size="8.2" textLength="4.20" lengthAdjust="spacingAndGlyphs" >0</text>
<line x1="335.80" y1="536.30" x2="335.80" y2="538.90" stroke="#111" stroke-width="1.0" />
<text x="315.50" y="549.10" font-size="8.6" textLength="40.00" lengthAdjust="spacingAndGlyphs" class="t" >SLAM HSC</text>
<text x="325.80" y="466.21" font-size="7.8" textLength="24.50" lengthAdjust="spacingAndGlyphs" font-style="italic" class="t" >p=0.26</text>
<line x1="325.80" y1="469.90" x2="350.30" y2="469.90" stroke="#111" stroke-width="0.9" />
<text transform="translate(299.58,545.00) rotate(-90)" x="0" y="0" font-size="9.1" textLength="104.50" lengthAdjust="spacingAndGlyphs" fill="#222">Percentage of annexin V+ cells</text>
<line x1="327.60" y1="473.60" x2="327.60" y2="511.50" stroke="#111" stroke-width="0.9" />
<line x1="324.10" y1="473.60" x2="331.10" y2="473.60" stroke="#111" stroke-width="0.9" />
<line x1="324.10" y1="511.50" x2="331.10" y2="511.50" stroke="#111" stroke-width="0.9" />
<circle cx="327.60" cy="477.70" r="1.5" fill="#111"/>
<circle cx="327.60" cy="481.70" r="1.5" fill="#111"/>
<circle cx="327.60" cy="491.30" r="1.5" fill="#111"/>
<circle cx="327.60" cy="519.80" r="1.5" fill="#111"/>
<line x1="344.60" y1="497.00" x2="344.60" y2="517.90" stroke="#111" stroke-width="0.9" />
<line x1="341.20" y1="497.00" x2="348.00" y2="497.00" stroke="#111" stroke-width="0.9" />
<line x1="341.20" y1="517.90" x2="348.00" y2="517.90" stroke="#111" stroke-width="0.9" />
<circle cx="344.60" cy="496.20" r="1.4" fill="none" stroke="#111" stroke-width="0.9"/>
<circle cx="344.60" cy="500.50" r="1.4" fill="none" stroke="#111" stroke-width="0.9"/>
<circle cx="344.60" cy="513.40" r="1.4" fill="none" stroke="#111" stroke-width="0.9"/>
<circle cx="344.60" cy="518.80" r="1.4" fill="none" stroke="#111" stroke-width="0.9"/>
<text x="429.30" y="416.30" font-size="10.0" textLength="52.50" lengthAdjust="spacingAndGlyphs" class="t" >Caspase 3/7</text>
<rect x="409.30" y="422.50" width="11.20" height="5.00" fill="#2f4b7e" />
<text x="423.80" y="427.66" font-size="7.4" textLength="32.00" lengthAdjust="spacingAndGlyphs" fill="#3a3a3a" >+/+ (n=3)</text>
<rect x="460.00" y="422.50" width="10.80" height="5.00" fill="#a5002b" />
<text x="474.30" y="427.66" font-size="7.4" textLength="28.20" lengthAdjust="spacingAndGlyphs" fill="#3a3a3a" >fl/fl(n=3)</text>
<rect x="440.20" y="483.30" width="13.80" height="53.00" fill="#2f4b7e" />
<rect x="456.50" y="484.20" width="14.40" height="52.10" fill="#a5002b" />
<line x1="435.50" y1="455.00" x2="435.50" y2="536.30" stroke="#111" stroke-width="1.0" />
<line x1="435.50" y1="536.30" x2="476.30" y2="536.30" stroke="#111" stroke-width="1.0" />
<line x1="432.90" y1="456.35" x2="435.50" y2="456.35" stroke="#111" stroke-width="1.0" />
<text x="419.70" y="459.30" font-size="8.2" textLength="10.30" lengthAdjust="spacingAndGlyphs" >1.5</text>
<line x1="432.90" y1="483.00" x2="435.50" y2="483.00" stroke="#111" stroke-width="1.0" />
<text x="419.70" y="485.95" font-size="8.2" textLength="10.30" lengthAdjust="spacingAndGlyphs" >1.0</text>
<line x1="432.90" y1="509.65" x2="435.50" y2="509.65" stroke="#111" stroke-width="1.0" />
<text x="419.70" y="512.60" font-size="8.2" textLength="10.30" lengthAdjust="spacingAndGlyphs" >0.5</text>
<line x1="432.90" y1="536.30" x2="435.50" y2="536.30" stroke="#111" stroke-width="1.0" />
<text x="426.00" y="539.25" font-size="8.2" textLength="4.00" lengthAdjust="spacingAndGlyphs" >0</text>
<line x1="455.50" y1="536.30" x2="455.50" y2="538.90" stroke="#111" stroke-width="1.0" />
<text x="437.00" y="549.40" font-size="8.6" textLength="36.80" lengthAdjust="spacingAndGlyphs" class="t" >CD48-LSK</text>
<text x="444.00" y="460.08" font-size="8.0" textLength="23.90" lengthAdjust="spacingAndGlyphs" font-style="italic" class="t" >p=0.91</text>
<line x1="450.10" y1="463.50" x2="462.10" y2="463.50" stroke="#111" stroke-width="0.9" />
<text transform="translate(413.28,540.00) rotate(-90)" x="0" y="0" font-size="9.1" textLength="90.50" lengthAdjust="spacingAndGlyphs" fill="#222">Relative caspase3/7 activity</text>
<line x1="447.10" y1="468.30" x2="447.10" y2="498.40" stroke="#111" stroke-width="0.9" />
<line x1="443.40" y1="468.30" x2="450.80" y2="468.30" stroke="#111" stroke-width="0.9" />
<line x1="443.40" y1="498.40" x2="450.80" y2="498.40" stroke="#111" stroke-width="0.9" />
<circle cx="447.10" cy="468.30" r="1.5" fill="#111"/>
<circle cx="447.10" cy="483.30" r="1.5" fill="#111"/>
<circle cx="447.10" cy="498.40" r="1.5" fill="#111"/>
<line x1="463.50" y1="477.50" x2="463.50" y2="490.80" stroke="#111" stroke-width="0.9" />
<line x1="460.10" y1="477.50" x2="466.90" y2="477.50" stroke="#111" stroke-width="0.9" />
<line x1="460.10" y1="490.80" x2="466.90" y2="490.80" stroke="#111" stroke-width="0.9" />
<circle cx="463.50" cy="476.60" r="1.4" fill="none" stroke="#111" stroke-width="0.9"/>
<circle cx="465.30" cy="486.50" r="1.4" fill="none" stroke="#111" stroke-width="0.9"/>
<circle cx="461.50" cy="489.40" r="1.4" fill="none" stroke="#111" stroke-width="0.9"/>
</g>
</svg>
</body></html>
